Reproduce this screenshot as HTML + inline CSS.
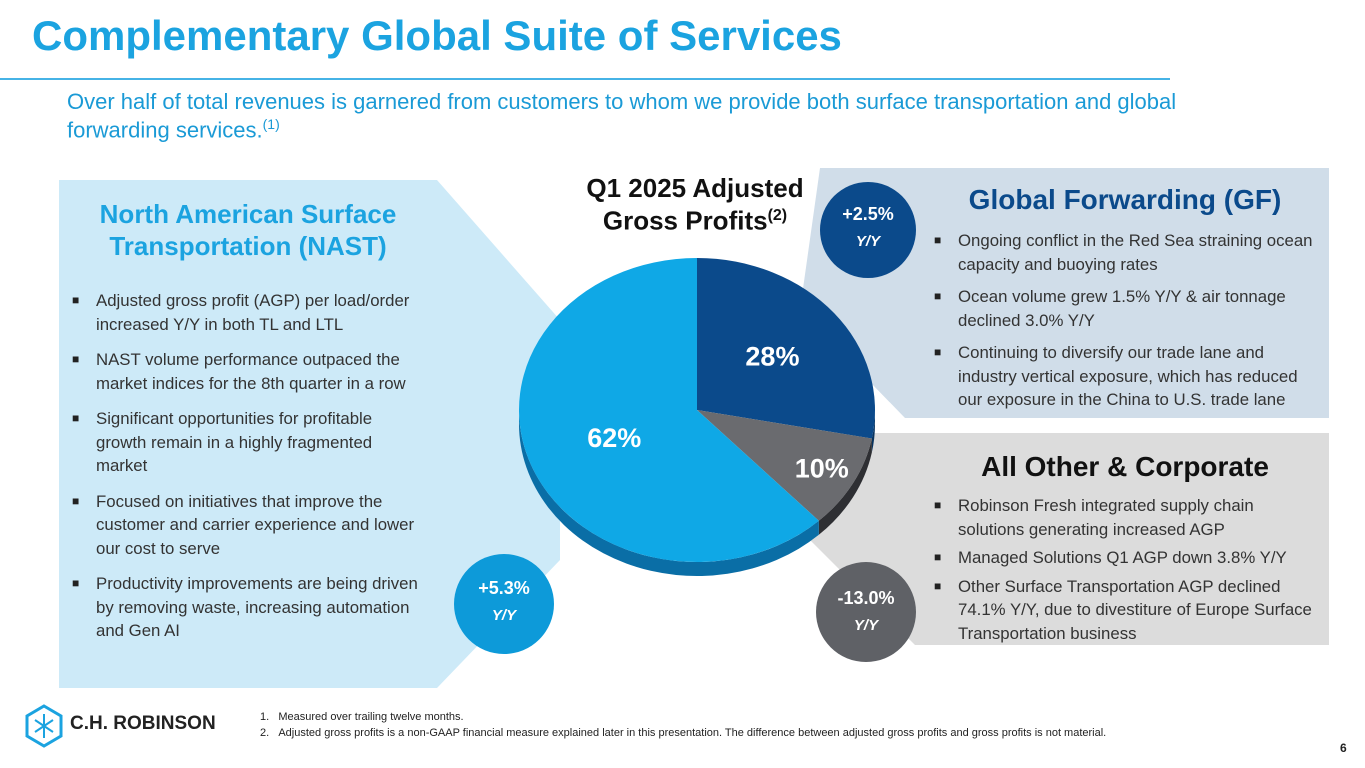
<!DOCTYPE html>
<html><head><meta charset="utf-8">
<style>
body{margin:0;width:1365px;height:768px;overflow:hidden;background:#fff;font-family:"Liberation Sans",Arial,sans-serif;position:relative}
.abs{position:absolute}
ul{list-style:none;margin:0;padding:0}
li{position:relative;padding-left:24px;font-size:16.8px;line-height:23.5px;color:#333}
li:before{content:"■";position:absolute;left:0;top:0;font-size:12px;color:#222}
.circ{position:absolute;border-radius:50%;color:#fff;text-align:center;font-weight:bold}
.circ .a{font-size:18px}.circ .b{font-size:15px;font-style:italic;margin-top:8px}
</style></head><body>
<svg class="abs" style="left:0;top:0" width="1365" height="768">
<polygon points="59,180 437,180 560,320 560,560 437,688 59,688" fill="#cdeaf8"/>
<polygon points="820,168 1329,168 1329,418 905,418 800,310" fill="#d0dde9"/>
<polygon points="830,433 1329,433 1329,645 915,645 810,540" fill="#dcdcdc"/>
<line x1="0" y1="79" x2="1170" y2="79" stroke="#46b3e6" stroke-width="2"/>
</svg>
<div class="abs" style="left:32px;top:12px;font-size:42px;font-weight:bold;color:#1ba3e0;white-space:nowrap">Complementary Global Suite of Services</div>
<div class="abs" style="left:67px;top:90px;width:1180px;font-size:22px;line-height:23px;color:#1a9ad6">Over half of total revenues is garnered from customers to whom we provide both surface transportation and global forwarding services.<sup style="font-size:14px">(1)</sup></div>

<div class="abs" style="left:59px;top:198px;width:378px;text-align:center;font-size:26px;line-height:32px;font-weight:bold;color:#1ba3e0">North American Surface Transportation (NAST)</div>
<ul class="abs" style="left:72px;top:289px;width:352px">
<li style="margin-bottom:12px">Adjusted gross profit (AGP) per load/order increased Y/Y in both TL and LTL</li>
<li style="margin-bottom:12px">NAST volume performance outpaced the market indices for the 8th quarter in a row</li>
<li style="margin-bottom:12px">Significant opportunities for profitable growth remain in a highly fragmented market</li>
<li style="margin-bottom:12px">Focused on initiatives that improve the customer and carrier experience and lower our cost to serve</li>
<li>Productivity improvements are being driven by removing waste, increasing automation and Gen AI</li>
</ul>

<div class="abs" style="left:925px;top:184px;width:400px;text-align:center;font-size:28px;font-weight:bold;color:#0b4a8b">Global Forwarding (GF)</div>
<ul class="abs" style="left:934px;top:229px;width:390px">
<li style="margin-bottom:9px">Ongoing conflict in the Red Sea straining ocean capacity and buoying rates</li>
<li style="margin-bottom:9px">Ocean volume grew 1.5% Y/Y &amp; air tonnage declined 3.0% Y/Y</li>
<li>Continuing to diversify our trade lane and industry vertical exposure, which has reduced our exposure in the China to U.S. trade lane</li>
</ul>

<div class="abs" style="left:925px;top:451px;width:400px;text-align:center;font-size:28px;font-weight:bold;color:#111">All Other &amp; Corporate</div>
<ul class="abs" style="left:934px;top:494px;width:390px">
<li style="margin-bottom:5px">Robinson Fresh integrated supply chain solutions generating increased AGP</li>
<li style="margin-bottom:5px">Managed Solutions Q1 AGP down 3.8% Y/Y</li>
<li>Other Surface Transportation AGP declined 74.1% Y/Y, due to divestiture of Europe Surface Transportation business</li>
</ul>

<div class="abs" style="left:555px;top:174px;width:280px;text-align:center;font-size:26px;line-height:28px;font-weight:bold;color:#111">Q1 2025 Adjusted<br>Gross Profits<sup style="font-size:16px">(2)</sup></div>

<svg id="pie" class="abs" style="left:0;top:0" width="1365" height="768"></svg>

<div class="circ" style="left:820px;top:182px;width:96px;height:96px;background:#0b4a8b"><div class="a" style="margin-top:22px">+2.5%</div><div class="b">Y/Y</div></div>
<div class="circ" style="left:454px;top:554px;width:100px;height:100px;background:#0d9ad9"><div class="a" style="margin-top:24px">+5.3%</div><div class="b">Y/Y</div></div>
<div class="circ" style="left:816px;top:562px;width:100px;height:100px;background:#5f6166"><div class="a" style="margin-top:26px">-13.0%</div><div class="b">Y/Y</div></div>

<svg class="abs" style="left:24px;top:704px" width="40" height="44" viewBox="0 0 40 44">
<polygon points="20,2 37,12 37,32 20,42 3,32 3,12" fill="none" stroke="#1ba3e0" stroke-width="3"/>
<path d="M20,10V34M11,16L29,28M29,16L11,28" stroke="#1ba3e0" stroke-width="2"/>
</svg>
<div class="abs" style="left:70px;top:713px;font-size:19px;font-weight:bold;color:#222;white-space:nowrap">C.H. ROBINSON</div>
<div class="abs" style="left:260px;top:709px;font-size:11px;line-height:16px;color:#222">1.&nbsp;&nbsp;&nbsp;Measured over trailing twelve months.<br>2.&nbsp;&nbsp;&nbsp;Adjusted gross profits is a non-GAAP financial measure explained later in this presentation. The difference between adjusted gross profits and gross profits is not material.</div>
<div class="abs" style="left:1340px;top:741px;font-size:12px;font-weight:bold;color:#222">6</div>

<script>
const categories = ["GF", "Other", "NAST"];
const values = [28, 10, 62];
const labels = ["28%", "10%", "62%"];
const colors = ["#0b4a8b", "#6a6b6f", "#0fa8e6"];
const sides = ["#07335f", "#2e2f33", "#0a6ea6"];
const labelRadius = [0.55, 0.8, 0.5];
const cx = 697, cy = 410, rx = 178, ry = 152, depth = 14;
const svg = document.getElementById('pie');
const NS = "http://www.w3.org/2000/svg";
const total = values.reduce((a, b) => a + b, 0);
function pt(a, dy) { return [cx + rx * Math.sin(a), cy - ry * Math.cos(a) + (dy || 0)]; }
let start = 0;
const arcs = values.map(v => { const s = start; start += v / total * 2 * Math.PI; return [s, start]; });
arcs.forEach(([s, e], i) => {
  const a0 = Math.max(s, Math.PI / 2), a1 = Math.min(e, 3 * Math.PI / 2);
  if (a1 <= a0) return;
  const p0 = pt(a0), p1 = pt(a1), q1 = pt(a1, depth), q0 = pt(a0, depth);
  const p = document.createElementNS(NS, 'path');
  p.setAttribute('d', `M${p0}A${rx},${ry} 0 0 1 ${p1}L${q1}A${rx},${ry} 0 0 0 ${q0}Z`);
  p.setAttribute('fill', sides[i]);
  
  
  svg.appendChild(p);
});
arcs.forEach(([s, e], i) => {
  const p0 = pt(s), p1 = pt(e), large = (e - s) > Math.PI ? 1 : 0;
  const p = document.createElementNS(NS, 'path');
  p.setAttribute('d', `M${cx},${cy}L${p0}A${rx},${ry} 0 ${large} 1 ${p1}Z`);
  p.setAttribute('fill', colors[i]);
  
  
  svg.appendChild(p);
  const m = (s + e) / 2;
  const t = document.createElementNS(NS, 'text');
  const f = labelRadius[i];
  t.setAttribute('x', cx + rx * f * Math.sin(m));
  t.setAttribute('y', cy - ry * f * Math.cos(m) + 9);
  t.setAttribute('text-anchor', 'middle');
  t.setAttribute('font-size', '27');
  t.setAttribute('font-weight', 'bold');
  t.setAttribute('fill', '#fff');
  t.setAttribute('font-family', 'Liberation Sans, sans-serif');
  t.textContent = labels[i];
  
  
  svg.appendChild(t);
});
</script>
</body></html>
